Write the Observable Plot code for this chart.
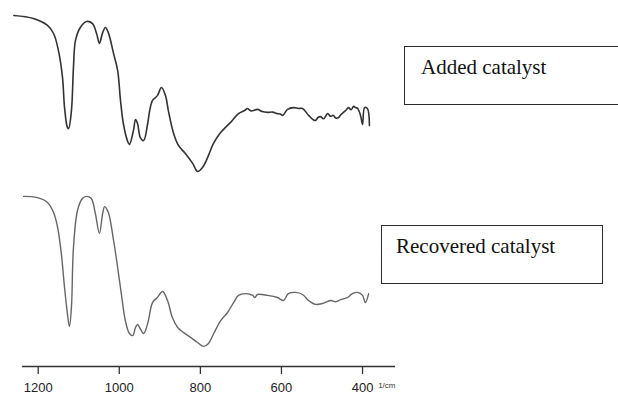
<!DOCTYPE html>
<html>
<head>
<meta charset="utf-8">
<script src="https://cdn.jsdelivr.net/npm/d3@7"></script>
<script src="https://cdn.jsdelivr.net/npm/@observablehq/plot@0.6"></script>
<style>
  html, body { margin: 0; padding: 0; background: #fff; overflow: hidden; }
  #wrap { position: relative; width: 618px; height: 395px; overflow: hidden; }
  .tag {
    position: absolute; box-sizing: border-box;
    border: 1.4px solid #2b2b2b; background: #fff;
    font-family: "Liberation Serif", "Times New Roman", serif;
    font-size: 21px; color: #111; line-height: 1;
  }
  .tag span { position: absolute; white-space: nowrap; }
</style>
</head>
<body>
<div id="wrap"></div>
<script>
// FT-IR spectra: fresh catalyst vs. catalyst recovered after reaction
const seriesNames = ["Added catalyst", "Recovered catalyst"];
const xTicks = [1200, 1000, 800, 600, 400];
const xUnit = "1/cm";

// Added catalyst: wavenumber (cm-1) and transmittance (a.u.)
const addedWn = [1260, 1212, 1177, 1162, 1150, 1140, 1135, 1128, 1125, 1118, 1113, 1108, 1096, 1081, 1066, 1056, 1049, 1041, 1034, 1027, 1014, 1004, 997, 990, 980, 975, 965, 960, 955, 948, 940, 930, 925, 918, 906, 896, 886, 879, 866, 854, 837, 819, 807, 795, 782, 768, 750, 726, 706, 690, 684, 675, 659, 648, 634, 622, 610, 603, 597, 585, 570, 558, 548, 533, 522, 516, 510, 504, 496, 486, 479, 472, 466, 459, 453, 447, 441, 435, 428, 422, 417, 412, 405, 400, 395, 388, 383];
const addedT = [57.0, 56.0, 53.7, 51.0, 45.3, 36.3, 26.3, 19.7, 19.3, 25.3, 39.7, 48.7, 53.0, 55.0, 54.3, 51.0, 47.7, 51.3, 53.0, 51.3, 44.3, 38.7, 28.7, 21.0, 15.3, 14.0, 18.7, 22.3, 21.0, 16.3, 15.3, 21.0, 25.3, 28.7, 30.3, 33.0, 30.3, 25.3, 17.7, 13.7, 11.0, 7.7, 5.0, 6.3, 9.7, 14.3, 18.0, 21.3, 24.3, 25.4, 26.0, 25.2, 25.7, 25.0, 24.7, 24.8, 24.3, 24.2, 23.7, 25.7, 26.3, 26.0, 26.0, 23.7, 22.3, 22.0, 23.0, 23.3, 22.6, 24.3, 23.4, 23.7, 22.8, 23.0, 24.0, 24.7, 25.4, 26.3, 25.6, 26.7, 26.3, 26.0, 23.7, 20.7, 26.3, 26.0, 20.3];

// Recovered catalyst: wavenumber (cm-1) and transmittance (a.u.)
const recoveredWn = [1236, 1202, 1177, 1162, 1152, 1143, 1135, 1128, 1123, 1118, 1113, 1103, 1091, 1081, 1069, 1059, 1049, 1041, 1036, 1027, 1014, 1004, 995, 985, 975, 967, 960, 955, 950, 940, 930, 918, 906, 893, 881, 869, 856, 841, 824, 807, 792, 780, 767, 750, 733, 718, 706, 689, 671, 666, 659, 634, 610, 595, 583, 565, 548, 533, 516, 499, 479, 466, 454, 437, 425, 412, 400, 393, 385];
const recoveredT = [56.7, 56.3, 54.7, 51.3, 46.3, 37.7, 26.3, 17.7, 13.3, 19.7, 39.7, 52.0, 56.0, 56.7, 56.0, 51.0, 44.3, 51.0, 53.3, 51.3, 42.0, 33.0, 24.3, 15.3, 11.0, 10.3, 13.0, 14.0, 13.0, 11.0, 14.3, 21.3, 23.0, 25.0, 22.0, 16.3, 13.0, 11.3, 9.7, 8.0, 6.7, 7.7, 11.0, 15.3, 18.0, 21.3, 23.7, 24.3, 23.7, 23.0, 24.0, 23.7, 23.0, 22.0, 24.3, 24.7, 24.0, 22.0, 20.7, 21.0, 22.0, 21.6, 22.3, 23.0, 24.3, 24.7, 23.7, 21.3, 24.3];

// vertical offset that stacks the first spectrum above the second
const stackOffset = 60;

const added = addedWn.map((w, i) => ({w, t: addedT[i] + stackOffset}));
const recovered = recoveredWn.map((w, i) => ({w, t: recoveredT[i]}));

const axisFont = "'Liberation Sans Narrow', 'Arial Narrow', 'Liberation Sans', Arial, sans-serif";

const chart = Plot.plot({
  width: 618,
  height: 395,
  marginLeft: 22,
  marginRight: 223,
  marginTop: 0,
  marginBottom: 29,
  style: {fontFamily: axisFont, fontSize: "13px", color: "#222", background: "#fff"},
  x: {domain: [1238.7, 318.7]},
  y: {domain: [0, 122], axis: null},
  marks: [
    Plot.ruleY([0], {stroke: "#333", strokeWidth: 1.5}),
    Plot.axisX({ticks: xTicks, tickSize: 8, tickPadding: 8, tickFormat: d => String(d), stroke: "#333", strokeWidth: 1.3, label: null, fill: "#222", fontSize: 13}),
    Plot.text([xUnit], {frameAnchor: "bottom-right", textAnchor: "end", dx: 0, dy: 21, fontSize: 8, fill: "#333"}),
    Plot.line(added, {x: "w", y: "t", curve: "catmull-rom", stroke: "#333", strokeWidth: 1.6}),
    Plot.line(recovered, {x: "w", y: "t", curve: "catmull-rom", stroke: "#666", strokeWidth: 1.4})
  ]
});

const wrap = document.getElementById("wrap");
wrap.appendChild(chart);

// labelled boxes next to each spectrum
const tags = [
  {text: seriesNames[0], left: 404, top: 46, width: 230, height: 59, tx: 16, baseline: 27},
  {text: seriesNames[1], left: 381, top: 225, width: 222, height: 59, tx: 14, baseline: 27}
];
for (const t of tags) {
  const box = document.createElement("div");
  box.className = "tag";
  Object.assign(box.style, {left: t.left + "px", top: t.top + "px", width: t.width + "px", height: t.height + "px"});
  const s = document.createElement("span");
  s.textContent = t.text;
  s.style.left = t.tx + "px";
  s.style.top = (t.baseline - 17) + "px";
  box.appendChild(s);
  wrap.appendChild(box);
}
</script>
</body>
</html>
